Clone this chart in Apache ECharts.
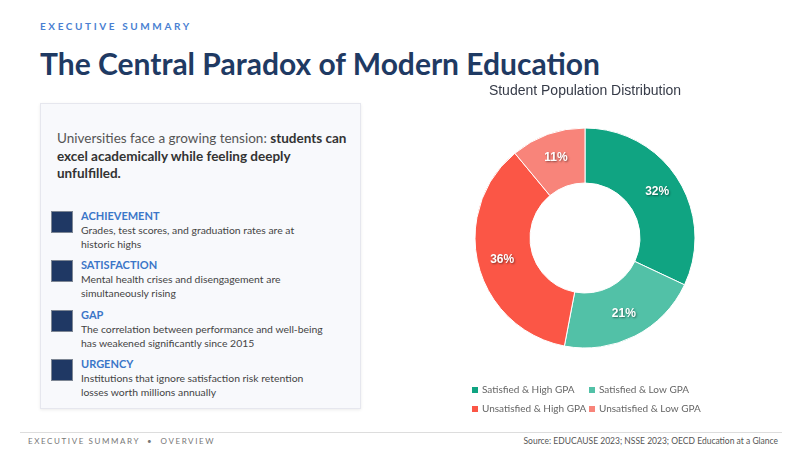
<!DOCTYPE html>
<html>
<head>
<meta charset="utf-8">
<script src="https://cdn.jsdelivr.net/npm/echarts@6/dist/echarts.min.js"></script>
<style>
  html, body { margin: 0; padding: 0; background: #fff; }
  body { width: 800px; height: 450px; position: relative; overflow: hidden; font-family: Lato, "Open Sans", sans-serif; }
  .kicker { position: absolute; left: 40px; top: 20px; font-size: 10px; font-weight: bold; letter-spacing: 2.6px; color: #4a7fd2; }
  .title { position: absolute; left: 40px; top: 45px; font-size: 30px; font-weight: bold; color: #1f3a63; white-space: nowrap; }
  .panel { position: absolute; left: 40px; top: 103px; width: 319px; height: 304px; background: #f8f9fc; border: 1px solid #e6e7ee; box-shadow: 0 1px 3px rgba(0,0,0,0.08); }
  .intro { position: absolute; left: 16px; top: 26px; width: 296px; font-size: 13.5px; line-height: 17.5px; color: #555; }
  .intro b { color: #333; }
  .item { position: absolute; left: 10px; width: 300px; }
  .sq { position: absolute; left: 0; top: 2px; width: 20px; height: 20px; background: #1f3864; border: 1px solid #7d8694; }
  .item h4 { margin: 0; position: absolute; left: 30px; top: 0; font-size: 11px; font-weight: bold; color: #3b76c8; }
  .item p { margin: 0; position: absolute; left: 30px; top: 14px; width: 246px; font-size: 10.4px; line-height: 14px; color: #444; }
  .footline { position: absolute; left: 20px; top: 432px; width: 762px; height: 1px; background: #ddd; }
  .foot { position: absolute; left: 28px; top: 436px; font-size: 8px; letter-spacing: 1.6px; color: #777; }
  .source { position: absolute; right: 22px; top: 436px; font-size: 8.5px; color: #555; }
  #chart { position: absolute; left: 420px; top: 0; width: 330px; height: 430px; }
</style>
</head>
<body>
<div class="kicker">EXECUTIVE SUMMARY</div>
<div class="title">The Central Paradox of Modern Education</div>
<div class="panel">
  <div class="intro">Universities face a growing tension: <b>students can excel academically while feeling deeply unfulfilled.</b></div>
  <div class="item" style="top:105px"><div class="sq"></div><h4>ACHIEVEMENT</h4><p>Grades, test scores, and graduation rates are at historic highs</p></div>
  <div class="item" style="top:154px"><div class="sq"></div><h4>SATISFACTION</h4><p>Mental health crises and disengagement are simultaneously rising</p></div>
  <div class="item" style="top:204px"><div class="sq"></div><h4>GAP</h4><p>The correlation between performance and well-being has weakened significantly since 2015</p></div>
  <div class="item" style="top:253px"><div class="sq"></div><h4>URGENCY</h4><p>Institutions that ignore satisfaction risk retention losses worth millions annually</p></div>
</div>
<div id="chart"></div>
<div class="footline"></div>
<div class="foot">EXECUTIVE SUMMARY &nbsp;•&nbsp; OVERVIEW</div>
<div class="source">Source: EDUCAUSE 2023; NSSE 2023; OECD Education at a Glance</div>
<script>
// student groups and their share of the population (%)
var groups = ['Satisfied & High GPA', 'Satisfied & Low GPA', 'Unsatisfied & High GPA', 'Unsatisfied & Low GPA']
var shares = [32, 21, 36, 11]
var colors = ['#10a482', '#52c1a7', '#fb5646', '#f8847a']

var chart = echarts.init(document.getElementById('chart'))
var legendBase = {
  orient: 'vertical',
  top: 385,
  padding: 0,
  itemWidth: 8,
  itemHeight: 8,
  itemGap: 9,
  icon: 'rect',
  textStyle: { fontFamily: 'Lato, sans-serif', fontSize: 10, color: '#666', padding: [0, 0, 0, -2] }
}
chart.setOption({
  color: colors,
  title: {
    text: 'Student Population Distribution',
    left: 'center',
    top: 79,
    textStyle: { fontFamily: 'Liberation Sans, Arial', fontSize: 14, fontWeight: 'normal', color: '#363b48' }
  },
  legend: [
    Object.assign({ left: 50, data: [groups[0], groups[2]] }, legendBase),
    Object.assign({ left: 167, data: [groups[1], groups[3]] }, legendBase)
  ],
  series: [{
    type: 'pie',
    center: [165, 238],
    radius: [55, 110],
    startAngle: 90,
    clockwise: true,
    silent: true,
    itemStyle: { borderColor: '#fff', borderWidth: 1 },
    label: {
      position: 'inside',
      formatter: '{d}%',
      fontFamily: 'Liberation Sans, Arial',
      fontSize: 12,
      fontWeight: 'bold',
      color: '#fff',
      textShadowColor: 'rgba(0,0,0,0.45)',
      textShadowBlur: 2,
      textShadowOffsetX: 1,
      textShadowOffsetY: 1
    },
    labelLine: { show: false },
    data: groups.map(function (g, i) { return { name: g, value: shares[i] } })
  }]
})
window.addEventListener('resize', chart.resize)
</script>
</body>
</html>
